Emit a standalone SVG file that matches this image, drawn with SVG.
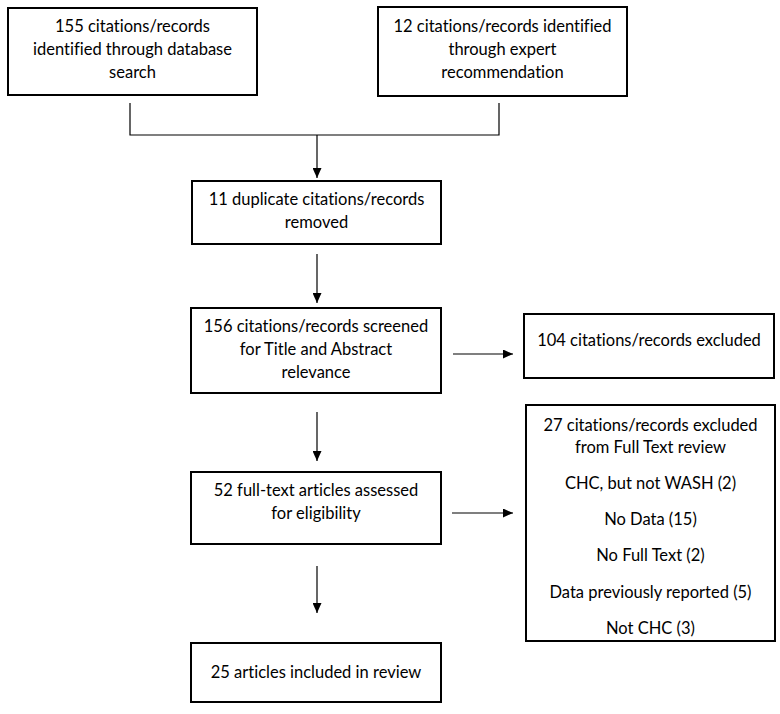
<svg xmlns="http://www.w3.org/2000/svg" width="780" height="714" viewBox="0 0 780 714">
<style>
.box{fill:#fff;stroke:#000;stroke-width:2}
.t{font-family:Lato,"Open Sans","Liberation Sans",sans-serif;font-size:16.5px;fill:#000;text-anchor:middle;font-variant-ligatures:none}
.c{fill:none;stroke:#000;stroke-width:1.2}
</style>
<defs>
<marker id="ah" markerUnits="userSpaceOnUse" markerWidth="10" markerHeight="9" refX="10" refY="4.5" orient="auto">
<path d="M0,0 L10,4.5 L0,9 z" fill="#000"/>
</marker>
</defs>
<rect width="780" height="714" fill="#fff"/>
<g id="connectors">
<path class="c" d="M130,103 V135 H499 V103"/>
<path class="c" d="M317,135 V178" marker-end="url(#ah)"/>
<path class="c" d="M317,254 V303" marker-end="url(#ah)"/>
<path class="c" d="M453,354 H513" marker-end="url(#ah)"/>
<path class="c" d="M317,412 V461" marker-end="url(#ah)"/>
<path class="c" d="M452,513 H513" marker-end="url(#ah)"/>
<path class="c" d="M317,566 V613" marker-end="url(#ah)"/>
</g>
<g id="n-database">
<rect class="box" x="8" y="8" width="249" height="87"/>
<text class="t" x="132.5" y="32">155 citations/records</text>
<text class="t" x="132.5" y="55">identified through database</text>
<text class="t" x="132.5" y="78">search</text>
</g>
<g id="n-expert">
<rect class="box" x="378" y="7" width="249" height="89"/>
<text class="t" x="502.5" y="32">12 citations/records identified</text>
<text class="t" x="502.5" y="55">through expert</text>
<text class="t" x="502.5" y="78">recommendation</text>
</g>
<g id="n-duplicates">
<rect class="box" x="192" y="181" width="249" height="63"/>
<text class="t" x="316.5" y="205">11 duplicate citations/records</text>
<text class="t" x="316.5" y="228">removed</text>
</g>
<g id="n-screened">
<rect class="box" x="191" y="308" width="250" height="85"/>
<text class="t" x="316" y="332">156 citations/records screened</text>
<text class="t" x="316" y="355">for Title and Abstract</text>
<text class="t" x="316" y="378">relevance</text>
</g>
<g id="n-excluded1">
<rect class="box" x="524" y="314" width="250" height="64"/>
<text class="t" x="649" y="346">104 citations/records excluded</text>
</g>
<g id="n-fulltext">
<rect class="box" x="191" y="472" width="250" height="72"/>
<text class="t" x="316" y="496">52 full-text articles assessed</text>
<text class="t" x="316" y="519">for eligibility</text>
</g>
<g id="n-excluded2">
<rect class="box" x="526" y="405" width="249" height="236"/>
<text class="t" x="650.5" y="431">27 citations/records excluded</text>
<text class="t" x="650.5" y="453">from Full Text review</text>
<text class="t" x="650.5" y="489">CHC, but not WASH (2)</text>
<text class="t" x="650.5" y="525">No Data (15)</text>
<text class="t" x="650.5" y="561">No Full Text (2)</text>
<text class="t" x="650.5" y="598">Data previously reported (5)</text>
<text class="t" x="650.5" y="634">Not CHC (3)</text>
</g>
<g id="n-included">
<rect class="box" x="191" y="643" width="250" height="59"/>
<text class="t" x="316" y="678">25 articles included in review</text>
</g>
</svg>
